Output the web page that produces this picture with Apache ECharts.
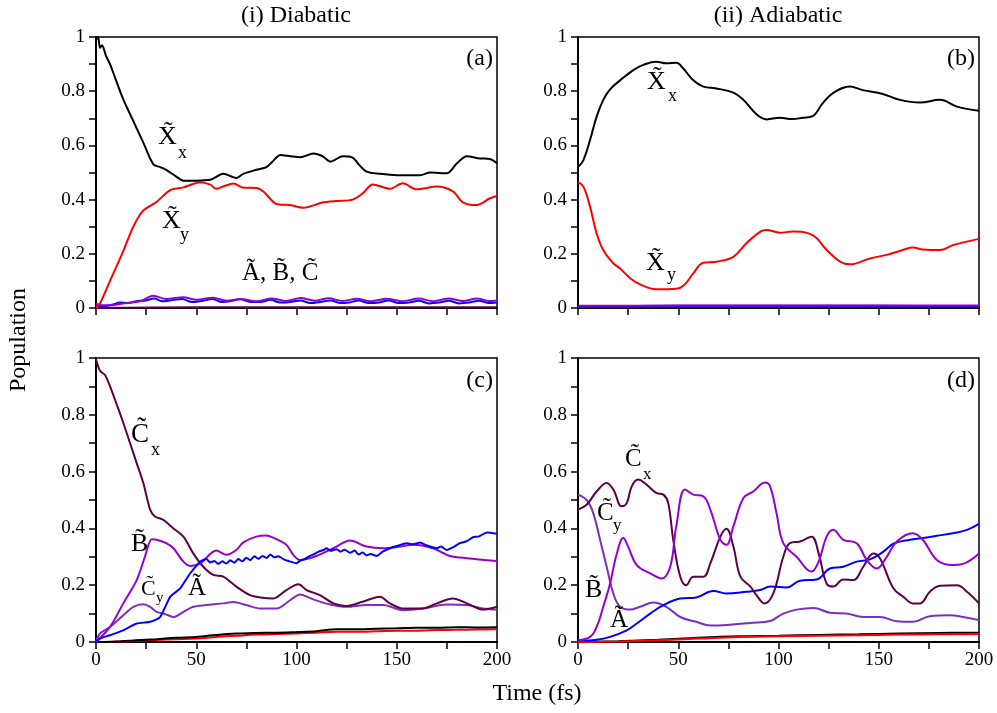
<!DOCTYPE html>
<html>
<head>
<meta charset="utf-8">
<script src="https://cdn.jsdelivr.net/npm/echarts@6/dist/echarts.min.js"></script>
<style>html,body{margin:0;padding:0;background:#fff}#chart{width:997px;height:713px}</style>
</head>
<body>
<div id="chart"></div>
<script>
// ---------- data (time in fs, population) ----------
const xTicks = [0, 50, 100, 150, 200];
const yTicks = [0, 0.2, 0.4, 0.6, 0.8, 1];

// (a) diabatic, initial X state
const a_Xx = [[0,0.99],[1,1.0],[2,0.96],[3,0.97],[5,0.93],[7,0.90],[10,0.84],[13.6,0.77],[18.6,0.69],[23.6,0.61],[28.6,0.53],[32,0.52],[35,0.51],[40,0.485],[43.6,0.47],[50,0.47],[57,0.473],[63.5,0.495],[70,0.48],[73.5,0.495],[80,0.51],[85,0.52],[88,0.54],[92,0.565],[97,0.56],[102,0.556],[108.4,0.57],[113,0.56],[117,0.54],[123,0.56],[128,0.555],[131,0.53],[135,0.503],[141.6,0.495],[150,0.49],[161.6,0.49],[166.6,0.5],[175,0.497],[180,0.534],[185,0.56],[191.5,0.552],[196.5,0.55],[200,0.534]];
const a_Xy = [[0,0],[2,0.017],[7,0.10],[13.6,0.21],[18.6,0.30],[23.6,0.36],[30,0.39],[37,0.435],[43.6,0.445],[52,0.464],[57,0.455],[60,0.44],[64,0.45],[68.5,0.459],[73.5,0.444],[80,0.443],[83.5,0.43],[90,0.384],[96.8,0.38],[103.4,0.37],[113,0.389],[120,0.395],[128,0.40],[133,0.423],[138,0.456],[146.6,0.44],[153,0.46],[160,0.438],[170,0.448],[178,0.43],[183,0.39],[190,0.38],[196.5,0.405],[200,0.413]];
const a_A = [[0,0.01],[3,0.005],[8,0.012],[12,0.02],[16,0.018],[20,0.025],[25,0.028],[29,0.035],[33,0.025],[37,0.028],[43,0.033],[48,0.022],[53,0.026],[58,0.033],[63,0.022],[67,0.025],[72,0.032],[77,0.022],[82,0.022],[87,0.03],[92,0.02],[97,0.022],[102,0.028],[107,0.018],[112,0.022],[117,0.028],[122,0.018],[126,0.02],[131,0.028],[136,0.018],[141,0.02],[146,0.028],[151,0.018],[156,0.02],[161,0.027],[166,0.017],[171,0.02],[176,0.027],[181,0.017],[186,0.02],[191,0.027],[196,0.018],[200,0.02]];
const a_B = [[0,0.015],[4,0.01],[8,0.01],[12,0.015],[17,0.02],[22,0.025],[28.6,0.045],[35,0.033],[43.6,0.04],[50,0.03],[58.5,0.038],[65,0.027],[72,0.033],[80,0.025],[87.6,0.035],[95,0.026],[102,0.037],[109,0.027],[116,0.036],[123,0.026],[130,0.034],[137,0.025],[145,0.034],[153,0.025],[161,0.035],[168,0.025],[176,0.035],[183,0.026],[190,0.035],[196,0.026],[200,0.028]];
const a_C = [[0,0.0],[50,0.003],[100,0.003],[150,0.003],[200,0.003]];

// (b) adiabatic, initial X state
const b_Xx = [[0,0.52],[2.7,0.546],[6,0.62],[9.3,0.706],[12.6,0.768],[16,0.807],[21,0.84],[27.6,0.878],[32.6,0.897],[39,0.909],[44,0.903],[49,0.905],[52.5,0.884],[57.5,0.84],[62.5,0.817],[69,0.81],[77.5,0.795],[82.5,0.768],[89,0.715],[94,0.696],[100.7,0.702],[107,0.697],[112,0.702],[117,0.708],[122,0.755],[127,0.792],[135.7,0.817],[142,0.804],[152,0.79],[160.6,0.768],[170.6,0.758],[180.5,0.768],[189,0.743],[200,0.728]];
const b_Xy = [[0,0.464],[2.7,0.448],[6,0.374],[9.3,0.275],[12.6,0.214],[17.6,0.165],[21,0.146],[26,0.11],[31,0.087],[39,0.069],[49,0.071],[53,0.085],[57.5,0.128],[62.5,0.167],[69,0.171],[77.5,0.189],[84,0.239],[91,0.282],[94,0.288],[100.7,0.278],[107,0.282],[117,0.269],[124,0.214],[130.7,0.171],[135.7,0.161],[145.6,0.183],[154,0.196],[162,0.214],[167,0.223],[172,0.216],[180.5,0.214],[187,0.232],[200,0.255]];
const b_A = [[0,0.006],[50,0.008],[100,0.008],[150,0.008],[200,0.007]];
const b_B = [[0,0.008],[50,0.009],[100,0.009],[150,0.009],[200,0.009]];
const b_C = [[0,0.004],[100,0.005],[200,0.005]];

// (c) diabatic, initial C state
const c_Cx = [[0,0.996],[2,0.955],[4.5,0.94],[7,0.90],[10.3,0.837],[13.6,0.772],[17,0.70],[20.3,0.63],[23.6,0.56],[27,0.466],[29.4,0.442],[33.6,0.43],[38.6,0.40],[43.6,0.371],[48.5,0.312],[53.5,0.265],[58.5,0.236],[63.5,0.23],[70,0.195],[76.8,0.165],[81.8,0.157],[88.4,0.153],[95,0.183],[101,0.203],[105,0.183],[111.7,0.165],[118.4,0.136],[125,0.127],[133,0.142],[141.6,0.159],[146.6,0.136],[153,0.118],[163,0.118],[170,0.136],[178,0.153],[185,0.136],[193,0.114],[200,0.124]];
const c_B = [[0,0],[7,0.053],[13.6,0.136],[20.3,0.218],[24.4,0.30],[27.8,0.362],[30.3,0.36],[35,0.348],[38.6,0.33],[43.6,0.283],[47,0.268],[52,0.277],[60,0.322],[65,0.307],[70,0.324],[73.5,0.351],[80,0.371],[85,0.375],[90,0.362],[95,0.342],[98.4,0.307],[101.7,0.289],[110,0.303],[118.4,0.33],[126.7,0.357],[135,0.336],[143.3,0.33],[151.6,0.336],[158.3,0.342],[168,0.33],[176.6,0.303],[185,0.295],[200,0.285]];
const c_A = [[0,0],[2,0.012],[7,0.024],[13.6,0.041],[20.3,0.065],[27,0.071],[32,0.088],[37,0.159],[42,0.189],[47,0.242],[52,0.283],[55,0.292],[57,0.280],[59,0.285],[61,0.275],[63,0.284],[65,0.276],[67,0.288],[69,0.279],[71,0.292],[73,0.284],[75,0.297],[77,0.288],[79,0.302],[81,0.293],[83,0.303],[85,0.296],[87,0.308],[89,0.298],[91,0.302],[93.4,0.292],[96,0.285],[100,0.277],[102,0.287],[104,0.292],[106.7,0.303],[109,0.31],[111,0.318],[113.4,0.324],[115,0.33],[117,0.321],[120,0.327],[122,0.318],[124,0.325],[126.7,0.314],[129,0.322],[131,0.308],[133,0.315],[135,0.305],[137,0.31],[140,0.303],[143,0.318],[146.6,0.33],[150,0.338],[155,0.348],[158,0.344],[161.6,0.35],[165,0.34],[170,0.33],[172,0.336],[175,0.324],[178,0.333],[181.5,0.348],[185,0.355],[188,0.369],[191,0.372],[195,0.386],[200,0.381]];
const c_Cy = [[0,0],[2,0.03],[7,0.053],[13.6,0.094],[18.6,0.124],[23.6,0.133],[27,0.124],[30.3,0.106],[35,0.097],[38.6,0.088],[43.6,0.106],[48.5,0.124],[55,0.13],[63.5,0.136],[68.5,0.141],[75,0.13],[81.8,0.118],[90,0.118],[96.8,0.147],[101.7,0.167],[108.4,0.15],[116.7,0.132],[125,0.124],[135,0.13],[143.3,0.13],[153,0.112],[163,0.118],[175,0.132],[185,0.13],[193,0.118],[200,0.114]];
const c_Xx = [[0,0],[10,0.002],[20,0.006],[30,0.01],[40,0.015],[50,0.018],[60,0.025],[70,0.03],[80,0.032],[90,0.033],[100,0.035],[110,0.038],[120,0.045],[130,0.045],[140,0.047],[150,0.048],[160,0.05],[170,0.05],[180,0.052],[190,0.051],[200,0.052]];
const c_Xy = [[0,0],[10,0.001],[20,0.004],[30,0.007],[40,0.01],[50,0.012],[60,0.018],[70,0.022],[80,0.026],[90,0.028],[100,0.03],[110,0.033],[120,0.036],[130,0.036],[140,0.038],[150,0.04],[160,0.04],[170,0.042],[180,0.043],[190,0.044],[200,0.045]];

// (d) adiabatic, initial C state
const d_Cx = [[0,0.466],[4.3,0.483],[9.3,0.53],[14.3,0.56],[17.6,0.537],[21.8,0.478],[24.3,0.489],[26.8,0.548],[30,0.572],[34.2,0.554],[39,0.525],[42.6,0.519],[45,0.489],[47.5,0.36],[51,0.23],[54,0.20],[57.5,0.23],[62.5,0.23],[66,0.277],[71,0.371],[74,0.399],[77.5,0.336],[81,0.23],[86,0.195],[89,0.165],[93,0.136],[97.4,0.171],[102.4,0.30],[105.7,0.348],[110.7,0.354],[116.5,0.371],[120,0.312],[124,0.206],[127.3,0.195],[132.3,0.22],[137.3,0.218],[142.3,0.265],[147.3,0.312],[150.6,0.295],[157.3,0.189],[162.3,0.159],[167,0.136],[170.6,0.136],[175.5,0.177],[180.5,0.198],[189,0.20],[194,0.177],[200,0.136]];
const d_B = [[0,0.006],[6,0.018],[9.3,0.053],[12.6,0.124],[16,0.206],[19.3,0.31],[22.6,0.366],[25,0.336],[29.3,0.271],[36,0.242],[41.7,0.224],[46,0.265],[49,0.407],[53.4,0.537],[57.5,0.519],[62.5,0.513],[66,0.466],[71,0.36],[74,0.342],[77.5,0.407],[82.5,0.507],[87.4,0.53],[93.3,0.562],[95.8,0.548],[99,0.454],[102.4,0.348],[109,0.30],[116.5,0.248],[120,0.283],[124,0.371],[127.3,0.395],[132.3,0.36],[139,0.348],[144,0.289],[149,0.259],[154,0.30],[159,0.354],[167,0.383],[172,0.36],[179,0.289],[187,0.271],[192,0.275],[200,0.312]];
const d_Cy = [[0,0.519],[4.3,0.50],[7.6,0.454],[11,0.36],[14.3,0.265],[17.6,0.171],[21,0.124],[26,0.114],[31,0.124],[37.6,0.139],[44,0.124],[51,0.088],[59,0.071],[66,0.058],[75.8,0.061],[86,0.067],[95.8,0.074],[102.4,0.10],[109,0.114],[117.4,0.12],[125.7,0.103],[134,0.10],[142.3,0.088],[150.6,0.088],[159,0.073],[167,0.071],[175.5,0.091],[185.5,0.094],[192,0.088],[200,0.077]];
const d_A = [[0,0.004],[9.3,0.008],[16,0.018],[24.3,0.041],[29.3,0.065],[36,0.10],[42.6,0.13],[51,0.153],[59,0.157],[67.5,0.18],[74,0.171],[84,0.177],[90.8,0.183],[95.8,0.195],[104,0.192],[110.7,0.216],[119,0.22],[125.7,0.259],[132.3,0.265],[139,0.283],[145.6,0.291],[152.3,0.318],[157.3,0.346],[165.6,0.36],[172,0.366],[179,0.374],[187,0.383],[194,0.395],[200,0.416]];
const d_Xx = [[0,0],[20,0.003],[40,0.008],[60,0.015],[80,0.02],[100,0.022],[120,0.025],[140,0.027],[160,0.03],[180,0.032],[200,0.033]];
const d_Xy = [[0,0],[20,0.002],[40,0.006],[60,0.012],[80,0.018],[100,0.02],[120,0.022],[140,0.024],[160,0.026],[180,0.027],[200,0.028]];

// ---------- styling ----------
const SERIF = '"Liberation Serif", "DejaVu Serif", serif';
const COL = { X: '#000000', Y: '#ff0000', A: '#0000ff', B: '#9400d3', Cx: '#5e0046', Cy: '#7a2fc0' };

const gridPos = [
  { left: 96, top: 37, width: 401, height: 271 },
  { left: 578, top: 37, width: 401, height: 271 },
  { left: 96, top: 358, width: 401, height: 284 },
  { left: 578, top: 358, width: 401, height: 284 }
];

const grids = gridPos.map(g => Object.assign({ show: true, borderColor: '#000', borderWidth: 1.5, backgroundColor: 'transparent' }, g));

const xAxes = gridPos.map((g, i) => ({
  type: 'value', gridIndex: i, min: 0, max: 200, interval: 50,
  axisLine: { show: true, onZero: false, lineStyle: { color: '#000', width: 2 } },
  axisTick: { show: true, inside: false, length: 7, lineStyle: { color: '#000', width: 1.5 } },
  minorTick: { show: true, splitNumber: 2, length: 7, lineStyle: { color: '#000', width: 1.5 } },
  splitLine: { show: false },
  axisLabel: { show: i >= 2, margin: 9, color: '#000', fontFamily: SERIF, fontSize: 19,
    formatter: v => xTicks.includes(v) ? String(v) : '' }
}));

const yAxes = gridPos.map((g, i) => ({
  type: 'value', gridIndex: i, min: 0, max: 1, interval: 0.2,
  axisLine: { show: true, onZero: false, lineStyle: { color: '#000', width: 2 } },
  axisTick: { show: true, inside: false, length: 7, lineStyle: { color: '#000', width: 1.5 } },
  minorTick: { show: true, splitNumber: 2, length: 7, lineStyle: { color: '#000', width: 1.5 } },
  splitLine: { show: false },
  axisLabel: { show: true, margin: 11, color: '#000', fontFamily: SERIF, fontSize: 19,
    formatter: v => { const t = yTicks.find(y => Math.abs(y - v) < 1e-9); return t === undefined ? '' : String(t); } }
}));

function line(idx, data, color, smooth) {
  return { type: 'line', xAxisIndex: idx, yAxisIndex: idx, data: data, showSymbol: false, symbol: 'none',
    smooth: smooth, lineStyle: { color: color, width: 2 }, itemStyle: { color: color }, silent: true, animation: false };
}

const series = [
  line(0, a_C, COL.Cx, 0.3), line(0, a_A, COL.A, 0.3), line(0, a_B, COL.B, 0.3), line(0, a_Xy, COL.Y, 0.3), line(0, a_Xx, COL.X, 0.3),
  line(1, b_C, COL.Cx, 0.3), line(1, b_A, COL.A, 0.3), line(1, b_B, COL.B, 0.3), line(1, b_Xy, COL.Y, 0.4), line(1, b_Xx, COL.X, 0.4),
  line(2, c_Xy, COL.Y, 0.3), line(2, c_Xx, COL.X, 0.3), line(2, c_Cy, COL.Cy, 0.3), line(2, c_Cx, COL.Cx, 0.3), line(2, c_B, COL.B, 0.3), line(2, c_A, COL.A, 0.2),
  line(3, d_Xx, COL.X, 0.4), line(3, d_Xy, COL.Y, 0.4), line(3, d_Cy, COL.Cy, 0.4), line(3, d_A, COL.A, 0.4), line(3, d_Cx, COL.Cx, 0.4), line(3, d_B, COL.B, 0.4)
];

function txt(x, y, s, size, align, vAlign) {
  return { type: 'text', x: x, y: y, z: 100, silent: true,
    style: { text: s, font: size + 'px ' + SERIF, fill: '#000', textAlign: align || 'left', textVerticalAlign: vAlign || 'bottom' } };
}
const T = '\u0303';
function lab(x, y, main, sub, size, sx, sy) {
  const out = [txt(x, y, main + T, size)];
  if (sub) out.push(txt(sx, sy, sub, Math.round(size * 0.68)));
  return out;
}

const graphic = [
  txt(296, 16, '(i) Diabatic', 24, 'center', 'middle'),
  txt(778, 16, '(ii) Adiabatic', 24, 'center', 'middle'),
  txt(537, 694, 'Time (fs)', 24, 'center', 'middle'),
  { type: 'text', x: 19, y: 340, rotation: Math.PI / 2, z: 100, silent: true,
    style: { text: 'Population', font: '24px ' + SERIF, fill: '#000', textAlign: 'center', textVerticalAlign: 'middle' } },
  txt(493, 59, '(a)', 24, 'right', 'middle'),
  txt(975, 59, '(b)', 24, 'right', 'middle'),
  txt(493, 381, '(c)', 24, 'right', 'middle'),
  txt(975, 381, '(d)', 24, 'right', 'middle'),
  ...lab(158, 150, 'X', 'x', 26, 178, 162),
  ...lab(162, 234, 'X', 'y', 26, 180, 244),
  txt(242, 286, 'A' + T + ', B' + T + ', C' + T, 25),
  ...lab(647, 95, 'X', 'x', 26, 668, 105),
  ...lab(646, 276, 'X', 'y', 26, 667, 284),
  ...lab(131, 448, 'C', 'x', 27, 151, 459),
  ...lab(131, 557, 'B', null, 26),
  ...lab(141, 600, 'C', 'y', 22, 156, 606),
  ...lab(188, 601, 'A', null, 25),
  ...lab(625, 472, 'C', 'x', 25, 643, 483),
  ...lab(597, 526, 'C', 'y', 25, 613, 534),
  ...lab(585, 603, 'B', null, 26),
  ...lab(610, 633, 'A', null, 25)
];

const chart = echarts.init(document.getElementById('chart'), null, { renderer: 'canvas' });
chart.setOption({
  animation: false,
  backgroundColor: '#fff',
  grid: grids, xAxis: xAxes, yAxis: yAxes, series: series, graphic: graphic
});
</script>
</body>
</html>
